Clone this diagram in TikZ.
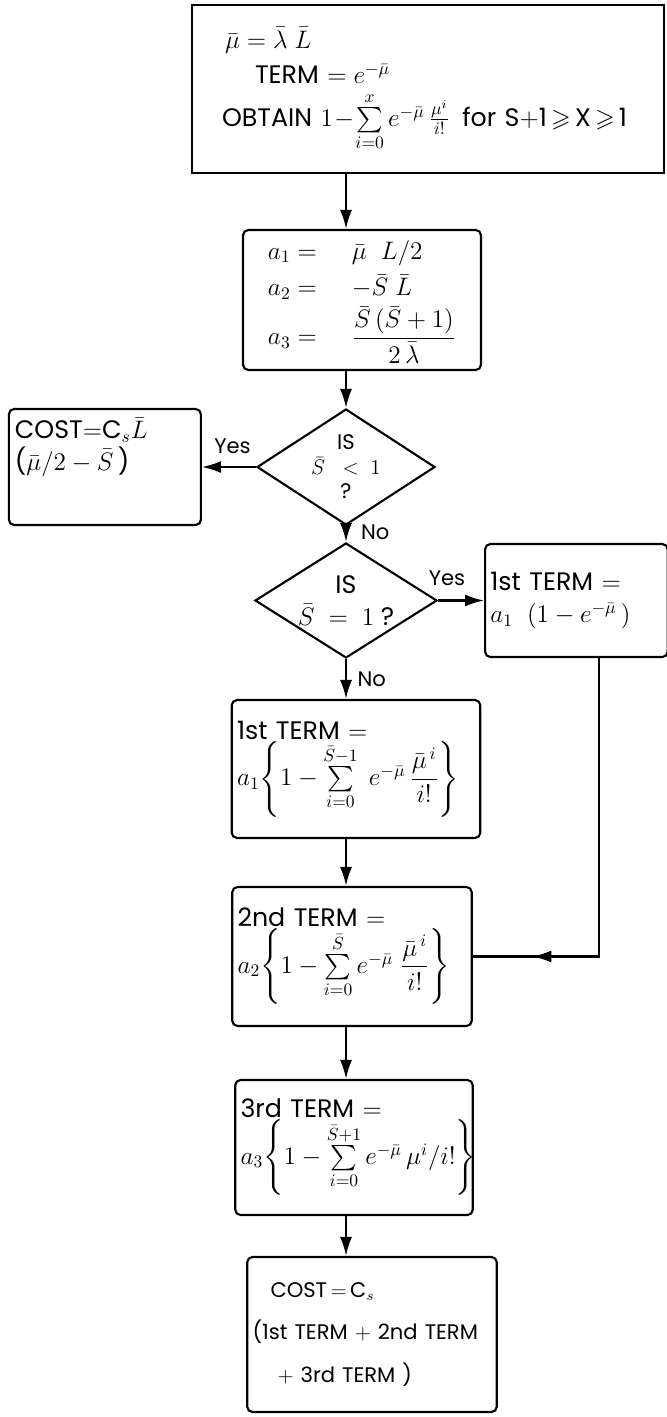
\documentclass[tikz,border=0pt]{standalone}
\usepackage{amsmath,amssymb}
\usepackage{fontspec}
\setmainfont{Poppins}
\usetikzlibrary{positioning,shapes.geometric,arrows.meta,decorations.markings}

\begin{document}
\begin{tikzpicture}[node distance=0.8cm,>={Latex[length=3.8mm,width=2.4mm]}]
  \tikzstyle{box}=[draw,line width=1.2pt,rounded corners=3pt,align=left,inner sep=3pt,font=\Large]
  \tikzstyle{test}=[draw,line width=1.2pt,diamond,inner sep=0pt,align=center,font=\Large]
  \tikzstyle{flow}=[->,line width=1.2pt]
  \tikzstyle{answer}=[font=\large,inner sep=2pt]
  \tikzstyle{midarrow}=[line width=1.2pt,postaction={decorate},
    decoration={markings,mark=at position 0.86 with {\arrow{Latex[length=3.8mm,width=2.4mm]}}}]
  \useasboundingbox (0,0) rectangle (13.34,-28.34);
  % main column
  \node[box,rounded corners=0pt,text width=9.24cm,minimum height=3.36cm] (start) at (8.56,-1.78) {%
    \hspace*{0.56cm}$\bar\mu=\bar\lambda\;\bar L$\\[2pt]
    \hspace*{1.16cm}TERM $=e^{-\bar\mu}$\\[4pt]
    \hspace*{0.5cm}OBTAIN $1\!-\!\sum\limits_{i=0}^{x}e^{-\bar\mu}\,\frac{\mu^{i}}{i!}$ \,for S$+$1$\,\geqslant\,$X$\,\geqslant\,$1};
  \node[box,minimum width=4.76cm,minimum height=2.8cm] (coef) at (7.24,-6.0) {%
    \begin{tabular}{@{}l@{\hspace{0.7cm}}l@{}}
      $a_1=$ & $\bar\mu\;\;L/2$\\[3pt]
      $a_2=$ & $-\bar S\;\bar L$\\[1pt]
      $a_3=$ & $\dfrac{\bar S\,(\bar S+1)}{2\,\bar\lambda}$
    \end{tabular}};
  \node[test,font=\large,aspect=1.53,minimum width=3.56cm,minimum height=2.32cm] (dia1) at (6.92,-9.34) {IS\\$\bar S\;\;<\;1$\\?};
  \node[box,minimum width=3.84cm,minimum height=2.32cm,left=1.08cm of dia1] (costS) {%
    \parbox[c][2.1cm][t]{3.6cm}{\vspace*{2pt}COST$=$C$_s\bar L$\\($\bar\mu/2-\bar S$\,)}};
  \node[test,aspect=1.58,minimum width=3.64cm,minimum height=2.3cm] (dia2) at (6.92,-12.01) {IS\\$\bar S\;=\;1$ ?};
  \node[box,text width=3.44cm,minimum height=2.26cm,right=0.92cm of dia2] (rbox) {%
    1st TERM $=$\\$a_1\;\;(1-e^{-\bar\mu}\,)$};
  \node[box,text width=4.76cm,minimum height=2.76cm] (fst) at (7.12,-15.38) {%
    1st TERM $=$\\
    $a_1\!\left\{1-\sum\limits_{i=0}^{\bar S-1}\;e^{-\bar\mu}\,\dfrac{\bar\mu^{\,i}}{i!}\right\}$};
  \node[box,text width=4.58cm,minimum height=2.78cm] (snd) at (7.04,-19.13) {%
    2nd TERM $=$\\
    $a_2\!\left\{1-\sum\limits_{i=0}^{\bar S}e^{-\bar\mu}\;\dfrac{\bar\mu^{\,i}}{i!}\right\}$};
  \node[box,text width=4.54cm,minimum height=2.7cm] (trd) at (7.08,-22.95) {%
    3rd TERM $=$\\
    $a_3\!\left\{1-\sum\limits_{i=0}^{\bar S+1}e^{-\bar\mu}\,\mu^{i}/i!\right\}$};
  \node[box,font=\large,text width=4.78cm,minimum height=3.1cm] (cost) at (7.44,-26.69) {%
    \hspace*{0.36cm}COST$\,=\,$C$_s$\\[10pt]
    (1st TERM $+$ 2nd TERM\\[10pt]
    \hspace*{0.5cm}$+$ 3rd TERM )};
  % connectors
  \draw[flow] (start.south -| dia1) -- (coef.north -| dia1);
  \draw[flow] (coef.south -| dia1) -- (dia1);
  \draw[flow] (dia1) -- node[answer,above=5pt,xshift=2pt] (yesA) {Yes} (costS);
  \draw[flow] (dia1) -- node[answer,right=6pt,yshift=1pt] (noA) {No} (dia2);
  \draw[flow] (dia2) -- node[answer,above=6pt,xshift=-8pt] (yesB) {Yes} (rbox);
  \draw[flow] (dia2) -- node[answer,right=4pt] (noB) {No} (fst.north -| dia2);
  \draw[flow] (fst.south -| dia1) -- (snd.north -| dia1);
  \draw[flow] (snd.south -| dia1) -- (trd.north -| dia1);
  \draw[flow] (trd.south -| dia1) -- (cost.north -| dia1);
  \coordinate[xshift=0.46cm] (ret) at (rbox.south);
  \draw[midarrow] (ret) |- (snd.east);
\end{tikzpicture}
\end{document}
